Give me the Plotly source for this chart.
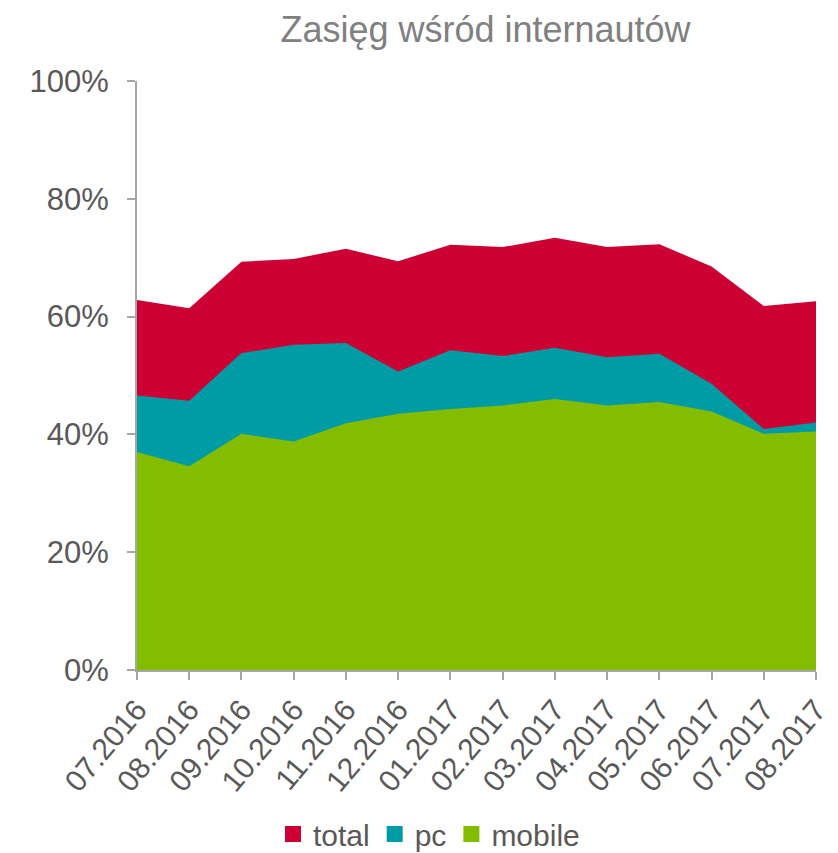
import plotly.graph_objects as go

months = ["07.2016", "08.2016", "09.2016", "10.2016", "11.2016", "12.2016",
          "01.2017", "02.2017", "03.2017", "04.2017", "05.2017", "06.2017",
          "07.2017", "08.2017"]
total = [62.8, 61.4, 69.3, 69.8, 71.5, 69.4, 72.2, 71.8, 73.4, 71.8, 72.3, 68.5, 61.8, 62.6]
pc = [46.6, 45.7, 53.8, 55.2, 55.5, 50.7, 54.3, 53.3, 54.7, 53.1, 53.7, 48.6, 40.9, 42.0]
mobile = [37.0, 34.6, 40.1, 38.8, 41.9, 43.5, 44.3, 44.9, 46.0, 44.9, 45.5, 43.9, 40.1, 40.5]
y_ticks = [0, 20, 40, 60, 80, 100]
y_labels = ["0%", "20%", "40%", "60%", "80%", "100%"]

series = [("total", total, "#CC0033"), ("pc", pc, "#009CA6"), ("mobile", mobile, "#84BD00")]

fig = go.Figure()
for name, vals, col in series:
    fig.add_trace(go.Scatter(x=months, y=vals, name=name, mode="lines",
                             line=dict(width=0, color=col), fill="tozeroy",
                             fillcolor=col, showlegend=False))
for name, vals, col in series:
    fig.add_trace(go.Scatter(x=[None], y=[None], name=name, mode="markers",
                             marker=dict(symbol="square", size=17, color=col),
                             showlegend=True))

# page body has an 8px margin, so the figure is laid out in 830x845
W, H = 830, 845
off = 8
grey = "#595959"
fig.update_layout(
    width=W, height=H,
    margin=dict(l=137 - off, r=W - (816 - off), t=81 - off, b=H - (670 - off),
                autoexpand=False),
    paper_bgcolor="white", plot_bgcolor="white",
    font=dict(family="Liberation Sans, Arial", color=grey, size=30),
    title=dict(text="Zasięg wśród internautów", x=(485.5 - off) / W, xanchor="center",
               y=1 - (29 - off) / H, yanchor="middle", automargin=False,
               font=dict(size=36, color="#808080")),
    xaxis=dict(type="category", range=[0, len(months) - 1], showgrid=False,
               showline=True, linecolor="#A6A6A6", linewidth=2, automargin=False,
               ticks="outside", ticklen=8, tickcolor="#A6A6A6", tickwidth=2,
               tickangle=-50, tickfont=dict(size=30, color=grey)),
    yaxis=dict(range=[0, 100], tickvals=y_ticks, ticktext=y_labels, showgrid=False,
               showline=True, linecolor="#A6A6A6", linewidth=2, zeroline=False,
               automargin=False,
               ticks="outside", ticklen=8, tickcolor="#A6A6A6", tickwidth=2,
               ticklabelstandoff=12, tickfont=dict(size=31, color=grey)),
    legend=dict(orientation="h", x=0.43, xanchor="center", y=-(834 - 670) / 589,
                yanchor="middle", font=dict(size=30, color=grey),
                itemwidth=30, tracegroupgap=0),
    showlegend=True,
)
fig.write_html("out.html")
